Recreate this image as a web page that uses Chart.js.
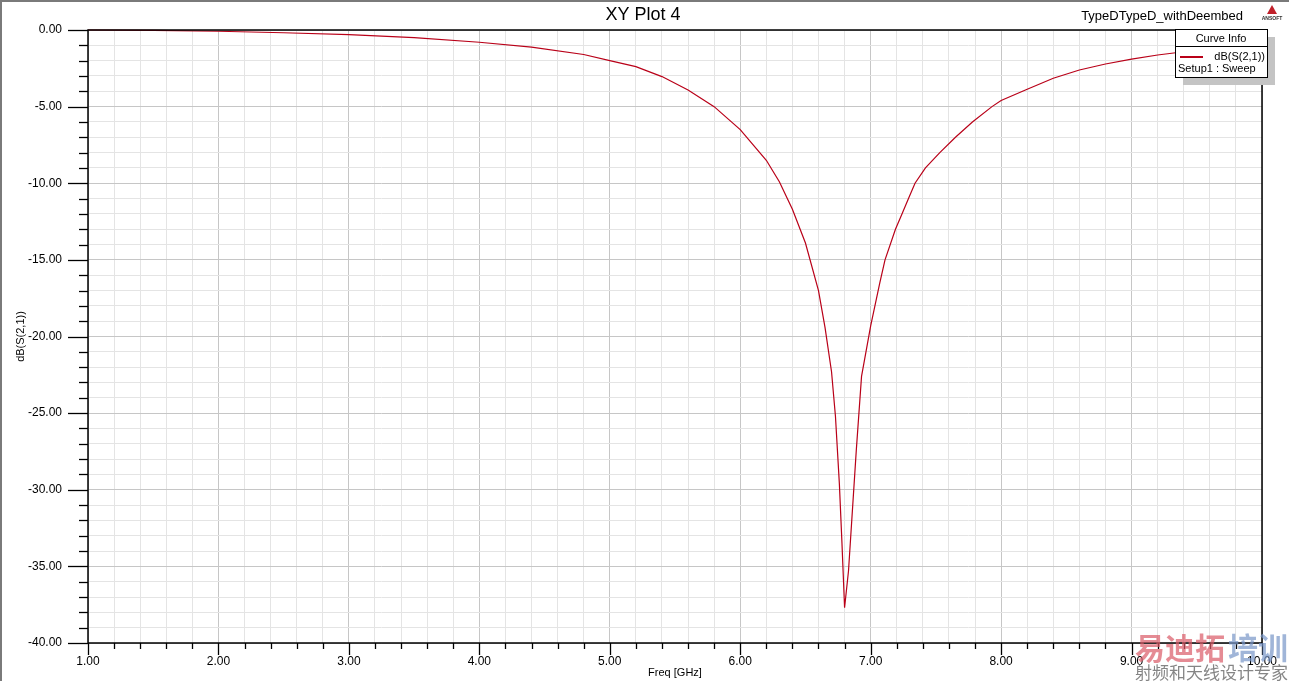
<!DOCTYPE html>
<html>
<head>
<meta charset="utf-8">
<title>XY Plot 4</title>
<script src="https://cdn.jsdelivr.net/npm/chart.js@4/dist/chart.umd.min.js"></script>
<style>
  html, body { margin: 0; padding: 0; background: #fff; }
  #wrap { position: relative; width: 1289px; height: 681px; }
</style>
</head>
<body>
<div id="wrap"><canvas id="myChart"></canvas></div>
<script>
  'use strict';

  // Sweep frequencies (GHz)
  const freqGHz = [
    1.0, 1.5, 2.0, 2.5, 3.0, 3.5, 4.0, 4.4, 4.8, 5.0, 5.2, 5.4, 5.6, 5.8,
    6.0, 6.2, 6.3, 6.4, 6.5, 6.6, 6.65, 6.7, 6.73, 6.76, 6.78, 6.8,
    6.83, 6.89, 6.93, 7.0, 7.07, 7.11, 7.19, 7.24, 7.29, 7.34, 7.42, 7.53,
    7.65, 7.78, 7.93, 8.0, 8.2, 8.4, 8.6, 8.8, 9.0, 9.2, 9.4, 9.6, 9.8, 10.0
  ];

  // dB(S(2,1)) values
  const s21dB = [
    0, -0.02, -0.08, -0.18, -0.3, -0.5, -0.8, -1.12, -1.6, -2.0, -2.39, -3.04, -3.92, -5.0,
    -6.5, -8.5, -9.9, -11.7, -13.9, -17.0, -19.4, -22.3, -25.2, -29.6, -33.5, -37.7,
    -35.3, -27.4, -22.6, -19.3, -16.5, -15.0, -13.0, -12.0, -11.0, -10.0, -9.0, -8.0,
    -7.0, -6.0, -5.0, -4.6, -3.87, -3.15, -2.61, -2.22, -1.9, -1.63, -1.42, -1.3, -1.2, -1.12
  ];

  const xRange = [1, 10];
  const yRange = [-40, 0];

  const isMajor = (v, step) => Math.abs(v / step - Math.round(v / step)) < 1e-6;
  const FONT = '"Liberation Sans", Arial, sans-serif';
  const LINE_COLOR = 'rgb(185, 0, 24)';

  /**
   * Draws frame, tick marks, header texts, legend box and watermark
   */
  const decorPlugin = {
    id: 'decor',
    afterDraw(chart) {
      const ctx = chart.ctx;
      const area = chart.chartArea;
      const xs = chart.scales.x;
      const ys = chart.scales.y;
      ctx.save();

      // outer window edge
      ctx.fillStyle = '#7a7a7a';
      ctx.fillRect(0, 0, 2, chart.height);
      ctx.fillRect(0, 0, chart.width, 2);

      // plot frame
      ctx.strokeStyle = '#000';
      ctx.lineWidth = 1.5;
      ctx.strokeRect(area.left, area.top, area.right - area.left, area.bottom - area.top);

      // y tick marks
      ctx.lineWidth = 1.3;
      ys.ticks.forEach((t) => {
        const y = Math.round(ys.getPixelForValue(t.value)) + 0.5;
        const len = isMajor(t.value, 5) ? 20 : 9;
        ctx.beginPath();
        ctx.moveTo(area.left - len, y);
        ctx.lineTo(area.left, y);
        ctx.stroke();
      });

      // x tick marks
      xs.ticks.forEach((t) => {
        const x = Math.round(xs.getPixelForValue(t.value)) + 0.5;
        const len = isMajor(t.value, 1) ? 12 : 6;
        ctx.beginPath();
        ctx.moveTo(x, area.bottom);
        ctx.lineTo(x, area.bottom + len);
        ctx.stroke();
      });

      // axis titles
      ctx.fillStyle = '#000';
      ctx.font = '11px ' + FONT;
      ctx.textAlign = 'center';
      ctx.textBaseline = 'middle';
      ctx.fillText('Freq [GHz]', 675, 673);
      ctx.save();
      ctx.translate(21, (area.top + area.bottom) / 2);
      ctx.rotate(-Math.PI / 2);
      ctx.fillText('dB(S(2,1))', 0, 0);
      ctx.restore();

      // header texts
      ctx.font = '18px ' + FONT;
      ctx.fillText('XY Plot 4', 643, 15);
      ctx.font = '13px ' + FONT;
      ctx.textAlign = 'right';
      ctx.fillText('TypeDTypeD_withDeembed', 1243, 16);

      // tiny ANSOFT logo
      ctx.fillStyle = '#c0202a';
      ctx.beginPath();
      ctx.moveTo(1267, 14);
      ctx.lineTo(1272, 5);
      ctx.lineTo(1277, 14);
      ctx.closePath();
      ctx.fill();
      ctx.fillStyle = '#333';
      ctx.font = 'bold 5px ' + FONT;
      ctx.textAlign = 'center';
      ctx.fillText('ANSOFT', 1272, 19);

      // legend box with shadow
      const lx = 1175, ly = 29, lw = 92, lh = 48;
      ctx.fillStyle = '#c4c4c4';
      ctx.fillRect(lx + 8, ly + 8, lw, lh);
      ctx.fillStyle = '#fff';
      ctx.fillRect(lx, ly, lw, lh);
      ctx.strokeStyle = '#000';
      ctx.lineWidth = 1;
      ctx.strokeRect(lx + 0.5, ly + 0.5, lw, lh);
      ctx.beginPath();
      ctx.moveTo(lx, ly + 17.5);
      ctx.lineTo(lx + lw, ly + 17.5);
      ctx.stroke();
      ctx.fillStyle = '#000';
      ctx.font = '11px ' + FONT;
      ctx.textAlign = 'center';
      ctx.fillText('Curve Info', lx + lw / 2, ly + 10);
      ctx.strokeStyle = LINE_COLOR;
      ctx.lineWidth = 2;
      ctx.beginPath();
      ctx.moveTo(lx + 5, ly + 28);
      ctx.lineTo(lx + 28, ly + 28);
      ctx.stroke();
      ctx.textAlign = 'right';
      ctx.fillText('dB(S(2,1))', lx + lw - 2, ly + 28);
      ctx.textAlign = 'left';
      ctx.fillText('Setup1 : Sweep', lx + 3, ly + 40);

      // watermark
      ctx.textBaseline = 'alphabetic';
      ctx.font = 'bold 30px "Noto Sans CJK SC"';
      ctx.fillStyle = 'rgba(218, 90, 102, 0.7)';
      ctx.fillText('易迪拓', 1135, 659);
      ctx.fillStyle = 'rgba(120, 150, 200, 0.7)';
      ctx.fillText('培训', 1228, 659);
      ctx.font = '17px "Noto Sans CJK SC"';
      ctx.fillStyle = 'rgba(120, 120, 120, 0.9)';
      ctx.fillText('射频和天线设计专家', 1135, 679);

      ctx.restore();
    }
  };

  const points = freqGHz.map((f, i) => ({ x: f, y: s21dB[i] }));

  const config = {
    type: 'line',
    data: {
      datasets: [{
        label: 'dB(S(2,1))',
        data: points,
        borderColor: LINE_COLOR,
        borderWidth: 1.2,
        pointRadius: 0,
        tension: 0,
        fill: false,
        clip: 3
      }]
    },
    options: {
      responsive: true,
      maintainAspectRatio: false,
      animation: false,
      layout: {
        padding: { left: 0, right: 27, top: 30, bottom: 0 }
      },
      plugins: {
        legend: { display: false },
        title: { display: false },
        tooltip: { enabled: false }
      },
      scales: {
        x: {
          type: 'linear',
          min: xRange[0],
          max: xRange[1],
          afterFit: (scale) => {
            scale.height = 38;
            scale.paddingLeft = 0;
            scale.paddingRight = 0;
          },
          border: { display: false },
          grid: {
            drawTicks: false,
            color: (c) => (isMajor(c.tick.value, 1) ? '#c6c6c6' : '#e4e4e4'),
            lineWidth: 1
          },
          ticks: {
            stepSize: 0.2,
            autoSkip: false,
            maxRotation: 0,
            padding: 11,
            color: '#000',
            font: { family: FONT, size: 12 },
            callback: (v) => (isMajor(v, 1) ? Number(v).toFixed(2) : '')
          }
        },
        y: {
          type: 'linear',
          min: yRange[0],
          max: yRange[1],
          afterFit: (scale) => {
            scale.width = 88;
            scale.paddingTop = 0;
            scale.paddingBottom = 0;
          },
          border: { display: false },
          grid: {
            drawTicks: false,
            color: (c) => (isMajor(c.tick.value, 5) ? '#c6c6c6' : '#e4e4e4'),
            lineWidth: 1
          },
          ticks: {
            stepSize: 1,
            autoSkip: false,
            padding: 26,
            color: '#000',
            font: { family: FONT, size: 12 },
            callback: (v) => (isMajor(v, 5) ? Number(v).toFixed(2) : '')
          }
        }
      }
    },
    plugins: [decorPlugin]
  };

  const canvas = document.getElementById('myChart');
  canvas.chart = new Chart(canvas, config);
</script>
</body>
</html>
